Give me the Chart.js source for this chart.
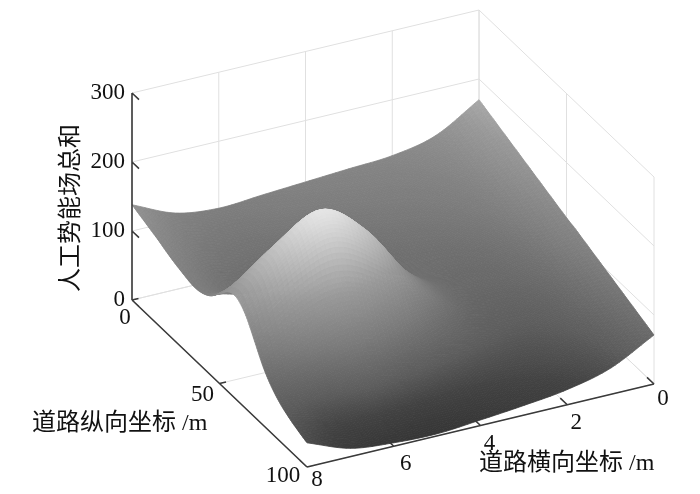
<!DOCTYPE html>
<html lang="zh">

<head>
	<meta charset="UTF-8">
	<title>人工势能场总和</title>
	<style>
		body { margin: 0; background: #fff; }
		canvas { display: block; }
	</style>
</head>

<body>
	<canvas id="myChart" width="700" height="494"></canvas>

	<script src="https://cdn.jsdelivr.net/npm/chart.js"></script>
	<script>
		// values
		const lateral = [8, 7, 6, 5, 4, 3, 2, 1, 0];
		const along = [0, 5, 10, 15, 20, 25, 30, 35, 40, 45, 50, 55, 60, 65, 70, 75, 80, 85, 90, 95, 100];
		const heights = [
			[138, 111, 103, 107, 111, 115, 119, 133, 170],
			[133, 106, 98, 102, 106, 110, 114, 128, 165],
			[128, 101, 93, 97, 101, 105, 109, 123, 160],
			[123, 96, 88, 91, 96, 100, 104, 119, 155],
			[117, 91, 83, 86, 90, 95, 100, 114, 150],
			[112, 86, 79, 81, 85, 90, 95, 109, 145],
			[108, 83, 76, 78, 81, 85, 90, 105, 140],
			[105, 83, 78, 78, 78, 81, 85, 100, 135],
			[107, 92, 91, 86, 80, 78, 80, 95, 130],
			[115, 116, 124, 110, 88, 77, 76, 90, 125],
			[130, 155, 175, 149, 103, 76, 72, 85, 120],
			[145, 194, 225, 187, 118, 77, 69, 81, 116],
			[148, 207, 244, 200, 121, 74, 64, 76, 111],
			[135, 190, 218, 180, 112, 70, 59, 71, 106],
			[110, 150, 165, 138, 92, 62, 55, 66, 101],
			[84, 110, 125, 103, 73, 55, 49, 62, 96],
			[66, 75, 88, 72, 55, 45, 43, 57, 91],
			[54, 50, 58, 47, 38, 35, 38, 52, 86],
			[46, 32, 33, 27, 25, 27, 33, 47, 81],
			[40, 20, 16, 12, 14, 20, 27, 43, 76],
			[35, 12, 5, 3, 8, 14, 22, 38, 71]
		];
		const xTicks = [8, 6, 4, 2, 0];
		const yTicks = [0, 50, 100];
		const zTicks = [0, 100, 200, 300];
		const grayStops = [0, 25, 50, 100, 150, 200, 250];
		const grayLevels = [52, 66, 92, 124, 152, 192, 234];

		// fixed view of the 3d box, in page pixels
		function project(x, y, z) {
			const u = (8 - x) / 8, t = y / 100;
			return {
				x: 132 + 347 * u + 175 * t,
				y: 300 - 83 * u + 167 * t - 207 * z / 300
			};
		}

		function lines(list) {
			const out = [];
			list.forEach(l => {
				out.push(project(...l[0]), project(...l[1]), { x: null, y: null });
			});
			return out;
		}

		const gridLines = [];
		zTicks.forEach(z => {
			gridLines.push([[8, 0, z], [0, 0, z]]);
			gridLines.push([[0, 0, z], [0, 100, z]]);
		});
		xTicks.forEach(x => gridLines.push([[x, 0, 0], [x, 0, 300]]));
		xTicks.forEach(x => gridLines.push([[x, 0, 0], [x, 100, 0]]));
		yTicks.forEach(y => gridLines.push([[0, y, 0], [0, y, 300]]));
		yTicks.forEach(y => gridLines.push([[8, y, 0], [0, y, 0]]));

		const axisLines = [
			[[8, 0, 0], [8, 0, 300]],
			[[8, 0, 0], [8, 100, 0]],
			[[8, 100, 0], [0, 100, 0]]
		];
		zTicks.forEach(z => axisLines.push([[8, 0, z], [8, 4, z]]));
		yTicks.forEach(y => axisLines.push([[8, y, 0], [7.85, y, 0]]));
		xTicks.forEach(x => axisLines.push([[x, 100, 0], [x, 96, 0]]));

		// smooth between the read values when painting, like shading interp
		function cr(a, b, c, d, s) {
			return 0.5 * (2 * b + (c - a) * s + (2 * a - 5 * b + 4 * c - d) * s * s + (3 * b - a - 3 * c + d) * s * s * s);
		}

		function heightAt(r, c) {
			const rows = heights.length, cols = lateral.length;
			const r0 = Math.min(Math.floor(r), rows - 2), c0 = Math.min(Math.floor(c), cols - 2);
			// past the border carry the slope on, so corners stay sharp
			const inRow = (i, j) => {
				const row = heights[i];
				if (j < 0) return 2 * row[0] - row[1];
				if (j >= cols) return 2 * row[cols - 1] - row[cols - 2];
				return row[j];
			};
			const part = i => {
				const col = j => {
					if (i < 0) return 2 * inRow(0, j) - inRow(1, j);
					if (i >= rows) return 2 * inRow(rows - 1, j) - inRow(rows - 2, j);
					return inRow(i, j);
				};
				return cr(col(c0 - 1), col(c0), col(c0 + 1), col(c0 + 2), c - c0);
			};
			return cr(part(r0 - 1), part(r0), part(r0 + 1), part(r0 + 2), r - r0);
		}

		function grayFor(z) {
			let i = 0;
			while (i < grayStops.length - 2 && z > grayStops[i + 1]) i++;
			const f = (z - grayStops[i]) / (grayStops[i + 1] - grayStops[i]);
			const g = Math.round(Math.max(40, Math.min(238, grayLevels[i] + f * (grayLevels[i + 1] - grayLevels[i]))));
			return `rgb(${g},${g},${g})`;
		}

		const surfacePlugin = {
			id: 'surface',
			afterDatasetDraw: (chart, args) => {
				if (args.index !== 1) return;
				const ctx = chart.ctx;
				const sx = chart.scales.x, sy = chart.scales.y;
				const stepR = 8, stepC = 10;
				const nR = (along.length - 1) * stepR, nC = (lateral.length - 1) * stepC;
				const pt = (i, j) => {
					const r = i / stepR, c = j / stepC;
					const z = heightAt(r, c);
					const p = project(8 - c, r * 5, z);
					return { x: sx.getPixelForValue(p.x), y: sy.getPixelForValue(p.y), z: z };
				};
				ctx.save();
				ctx.lineWidth = 0.8;
				// back to front: far corner is x=0, y=0
				for (let i = 0; i < nR; i++) {
					for (let j = nC - 1; j >= 0; j--) {
						const a = pt(i, j), b = pt(i, j + 1), c = pt(i + 1, j + 1), d = pt(i + 1, j);
						const col = grayFor((a.z + b.z + c.z + d.z) / 4);
						ctx.fillStyle = col;
						ctx.strokeStyle = col;
						ctx.beginPath();
						ctx.moveTo(a.x, a.y);
						ctx.lineTo(b.x, b.y);
						ctx.lineTo(c.x, c.y);
						ctx.lineTo(d.x, d.y);
						ctx.closePath();
						ctx.fill();
						ctx.stroke();
					}
				}
				ctx.restore();
			}
		};

		const labelFont = '"Liberation Serif", "Noto Sans CJK SC"';
		const textPlugin = {
			id: 'texts',
			afterDraw: (chart) => {
				const ctx = chart.ctx;
				ctx.save();
				ctx.fillStyle = '#111';
				ctx.font = '23px ' + labelFont;
				ctx.textBaseline = 'middle';
				ctx.textAlign = 'right';
				zTicks.forEach(z => {
					const p = project(8, 0, z);
					ctx.fillText(String(z), p.x - 7, p.y);
				});
				ctx.textAlign = 'center';
				yTicks.forEach(y => {
					const p = project(8, y, 0);
					const dx = y === 100 ? -24 : (y === 50 ? -17 : -7);
					const dy = y === 100 ? 9 : (y === 50 ? 11 : 18);
					ctx.fillText(String(y), p.x + dx, p.y + dy);
				});
				xTicks.forEach(x => {
					const p = project(x, 100, 0);
					const dx = x === 8 ? 10 : (x === 6 ? 12 : 9);
					const dy = x === 8 ? 13 : (x === 0 ? 15 : 18);
					ctx.fillText(String(x), p.x + dx, p.y + dy);
				});
				ctx.font = '24px ' + labelFont;
				ctx.textAlign = 'left';
				ctx.fillText('道路纵向坐标 /m', 32, 424);
				ctx.fillText('道路横向坐标 /m', 479, 464);
				ctx.translate(72, 208);
				ctx.rotate(-Math.PI / 2);
				ctx.textAlign = 'center';
				ctx.fillText('人工势能场总和', 0, 0);
				ctx.restore();
			}
		};

		const myChart = new Chart(document.getElementById('myChart'), {
			type: 'scatter',
			data: {
				datasets: [
					{
						label: 'axes',
						data: lines(axisLines),
						showLine: true,
						spanGaps: false,
						borderColor: '#3a3a3a',
						borderWidth: 1.6,
						pointRadius: 0
					},
					{
						label: 'grid',
						data: lines(gridLines),
						showLine: true,
						spanGaps: false,
						borderColor: '#e0e0e0',
						borderWidth: 1,
						pointRadius: 0
					}
				]
			},
			options: {
				responsive: false,
				animation: false,
				events: [],
				layout: { padding: 0 },
				plugins: { legend: { display: false }, tooltip: { enabled: false } },
				scales: {
					x: { type: 'linear', display: false, min: 0, max: 700 },
					y: { type: 'linear', display: false, min: 0, max: 494, reverse: true }
				}
			},
			plugins: [surfacePlugin, textPlugin]
		});
	</script>
</body>

</html>
